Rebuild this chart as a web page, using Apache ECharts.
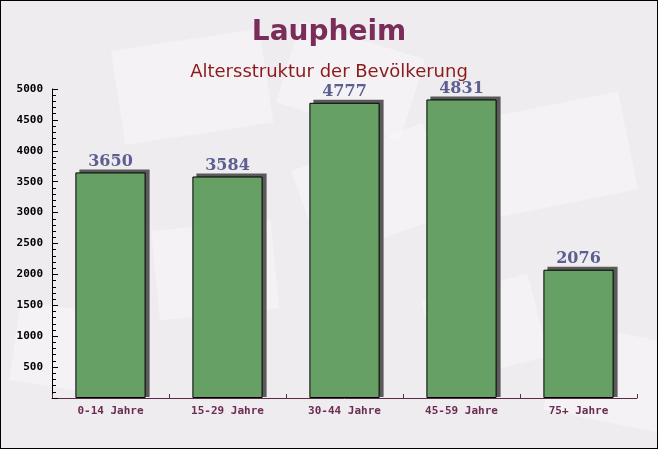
<!DOCTYPE html>
<html>
<head>
<meta charset="utf-8">
<script src="https://cdn.jsdelivr.net/npm/echarts@6/dist/echarts.min.js"></script>
<style>
  html, body { margin: 0; padding: 0; }
  #chart { width: 658px; height: 449px; box-sizing: border-box; border: 1px solid #000; }
</style>
</head>
<body>
<div id="chart"></div>
<script>
const categories = ['0-14 Jahre', '15-29 Jahre', '30-44 Jahre', '45-59 Jahre', '75+ Jahre']
const values = [3650, 3584, 4777, 4831, 2076]
const yTicks = [500, 1000, 1500, 2000, 2500, 3000, 3500, 4000, 4500, 5000]

const chart = echarts.init(document.getElementById('chart'))

// faint envelope shapes in the background
const envelope = (x, y, w, h, rot) => ({
  type: 'rect',
  x, y,
  rotation: rot,
  shape: { width: w, height: h },
  style: { fill: 'rgba(255,255,255,0.3)' },
  silent: true,
  z: -10
})

// grey block behind each bar, shifted right and up
const renderShadow = (params, api) => {
  const top = api.coord([api.value(0), api.value(1)])
  const base = api.coord([api.value(0), 0])
  const w = api.size([1, 0])[0] * 0.6
  return {
    type: 'rect',
    shape: { x: top[0] - w / 2 + 4, y: top[1] - 3, width: w, height: base[1] - top[1] + 2 },
    style: { fill: '#5a5a5a' }
  }
}

const option = {
  backgroundColor: '#efecef',
  graphic: [
    envelope(110, 50, 150, 95, 0.15),
    envelope(300, 20, 130, 85, -0.3),
    envelope(470, 120, 150, 100, 0.2),
    envelope(560, 320, 120, 90, -0.2),
    envelope(290, 170, 140, 95, 0.35),
    envelope(20, 300, 110, 80, -0.15),
    envelope(420, 300, 110, 85, 0.25),
    envelope(150, 230, 120, 90, 0.1)
  ],
  title: [
    {
      text: 'Laupheim',
      left: 'center',
      top: 13,
      textStyle: { fontFamily: 'DejaVu Sans', fontWeight: 'bold', fontSize: 28, color: '#7a2d58' }
    },
    {
      text: 'Altersstruktur der Bevölkerung',
      left: 'center',
      top: 57,
      textStyle: { fontFamily: 'DejaVu Sans', fontWeight: 'normal', fontSize: 18, color: '#8b1a1a' }
    }
  ],
  grid: { left: 51, right: 20, top: 88, bottom: 50 },
  xAxis: {
    type: 'category',
    data: categories,
    axisLine: { lineStyle: { color: '#5a2a48', width: 1 } },
    axisTick: { show: true, inside: true, length: 4, lineStyle: { color: '#5a2a48' } },
    axisLabel: {
      fontFamily: 'DejaVu Sans Mono',
      fontWeight: 'bold',
      fontSize: 11,
      color: '#6b2b52',
      margin: 8
    }
  },
  yAxis: {
    type: 'value',
    min: 0,
    max: yTicks[yTicks.length - 1],
    interval: 500,
    axisLine: { show: true, lineStyle: { color: '#000', width: 1 } },
    axisTick: { show: true, inside: true, length: 6, lineStyle: { color: '#000' } },
    minorTick: { show: true, splitNumber: 5, length: 4, lineStyle: { color: '#000' } },
    splitLine: { show: false },
    axisLabel: {
      fontFamily: 'DejaVu Sans Mono',
      fontWeight: 'bold',
      fontSize: 11,
      color: '#000',
      margin: 9,
      formatter: v => (yTicks.includes(v) ? String(v) : '')
    }
  },
  series: [
    {
      type: 'custom',
      renderItem: renderShadow,
      data: values.map((v, i) => [i, v]),
      clip: true,
      silent: true,
      z: 1
    },
    {
      type: 'bar',
      data: values,
      barWidth: '60%',
      z: 3,
      itemStyle: {
        color: '#67a065',
        borderColor: '#000',
        borderWidth: 1
      },
      label: {
        show: true,
        position: 'top',
        distance: 3,
        fontFamily: 'DejaVu Serif',
        fontWeight: 'bold',
        fontSize: 16,
        color: '#5c6090'
      }
    }
  ]
}

chart.setOption(option)
</script>
</body>
</html>
